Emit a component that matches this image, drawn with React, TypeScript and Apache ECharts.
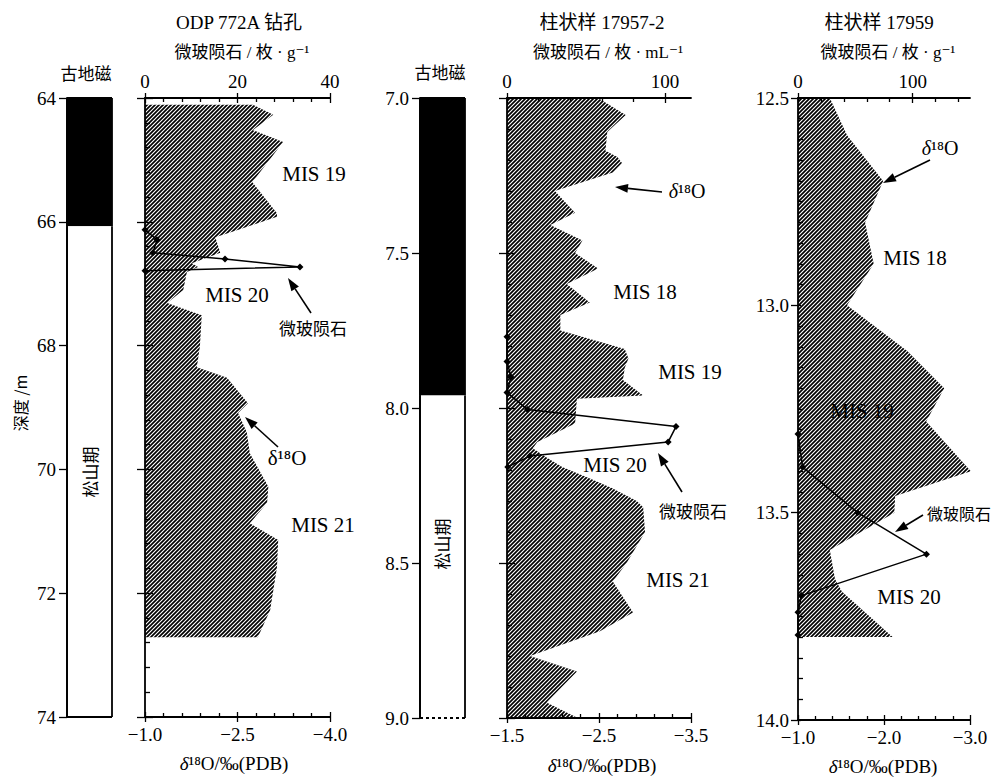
import React, { useEffect, useRef } from 'react';
import * as echarts from 'echarts';

// ---------------- DATA ----------------
// Panel 1: ODP 772A
const odpDepthTicks = [64, 66, 68, 70, 72, 74];
const odpCountTicks = [0, 20, 40];
const odpD18OTicks = [-1.0, -2.5, -4.0];
// [top depth, bottom depth, normal(1)/reversed(0)]
const odpPolarity = [
  [64, 66.07, 1],
  [66.07, 74, 0],
];
const odpProfileDepth = [64.11, 64.27, 64.52, 64.71, 65.36, 65.86, 65.92, 66.12, 66.25, 66.5, 66.67, 66.73, 66.81, 67.1, 67.31, 67.51, 68.02, 68.35, 68.52, 68.93, 69.09, 69.4, 69.74, 70.28, 70.54, 70.87, 71.14, 71.58, 72.27, 72.71];
const odpProfileD18O = [-2.75, -3.08, -2.75, -3.24, -2.74, -3.14, -3.14, -2.54, -2.14, -2.22, -1.76, -1.86, -1.68, -1.62, -1.36, -1.92, -1.89, -1.84, -2.33, -2.67, -2.51, -2.65, -2.7, -3.0, -2.98, -2.7, -3.16, -3.14, -3.03, -2.83];
const odpMicroDepth = [66.13, 66.29, 66.5, 66.6, 66.73, 66.79];
const odpMicroCount = [0, 2.6, 1.7, 17.3, 33.5, 0];

// Panel 2: core 17957-2
const c2DepthTicks = [7.0, 7.5, 8.0, 8.5, 9.0];
const c2CountTicks = [0, 100];
const c2D18OTicks = [-1.5, -2.5, -3.5];
const c2Polarity = [
  [7.0, 7.96, 1],
  [7.96, 9.0, 0],
];
const c2ProfileDepth = [7.0, 7.055, 7.11, 7.17, 7.19, 7.21, 7.24, 7.3, 7.37, 7.41, 7.46, 7.5, 7.55, 7.6, 7.66, 7.7, 7.75, 7.81, 7.84, 7.87, 7.91, 7.96, 7.97, 8.05, 8.11, 8.13, 8.16, 8.19, 8.23, 8.26, 8.3, 8.32, 8.4, 8.5, 8.56, 8.66, 8.72, 8.8, 8.85, 8.95, 9.0];
const c2ProfileD18O = [-2.49, -2.79, -2.59, -2.57, -2.7, -2.75, -2.65, -2.02, -2.24, -1.97, -2.32, -2.24, -2.49, -2.15, -2.4, -2.08, -2.08, -2.78, -2.82, -2.78, -2.76, -2.98, -2.26, -2.24, -1.83, -1.78, -1.93, -2.1, -2.42, -2.65, -2.91, -2.98, -3.0, -2.8, -2.65, -2.87, -2.51, -1.75, -2.26, -1.93, -2.27];
const c2MicroDepth = [7.77, 7.85, 7.9, 7.95, 8.005, 8.06, 8.11, 8.155, 8.19];
const c2MicroCount = [0, 0, 2.5, 0, 13, 107, 102, 14.5, 0.5];

// Panel 3: core 17959
const c3DepthTicks = [12.5, 13.0, 13.5, 14.0];
const c3CountTicks = [0, 100];
const c3D18OTicks = [-1.0, -2.0, -3.0];
const c3ProfileDepth = [12.5, 12.59, 12.7, 12.8, 12.9, 13.0, 13.11, 13.2, 13.28, 13.4, 13.46, 13.5, 13.59, 13.66, 13.69, 13.8];
const c3ProfileD18O = [-1.37, -1.57, -1.99, -1.78, -1.88, -1.57, -2.27, -2.7, -2.49, -3.01, -2.13, -2.12, -1.37, -1.43, -1.51, -2.1];
const c3MicroDepth = [13.31, 13.39, 13.5, 13.6, 13.7, 13.74, 13.795];
const c3MicroCount = [0, 4, 52, 112, 3, 0, 0];

// ---------------- STYLE HELPERS ----------------
const SERIF = 'Liberation Serif, DejaVu Serif, Noto Sans CJK SC, serif';
const SERIF1 = 'Liberation Serif';
const CJK = 'Noto Sans CJK SC, Liberation Serif, sans-serif';

function steps(min: number, max: number, step: number): number[] {
  const out: number[] = [];
  const lo = Math.min(min, max), hi = Math.max(min, max);
  for (let i = 0; lo + i * step <= hi + 1e-9; i++) out.push(+(lo + i * step).toFixed(5));
  return out;
}

type AxisCfg = {
  min: number; max: number; inverse?: boolean;
  majors: number[]; minorStep?: number;
  labels: boolean; fmt?: (v: number) => string; margin?: number;
  outLen: number; inLen: number; minorLen: number;
};

function addAxisSet(list: any[], gridIndex: number, position: string, c: AxisCfg): number {
  const base = {
    gridIndex, type: 'value', min: c.min, max: c.max, inverse: !!c.inverse, position,
    splitLine: { show: false }, axisPointer: { show: false }, z: 10,
  };
  const tickStyle = { color: '#000', width: 1.3 };
  list.push({
    ...base,
    axisLine: { show: true, onZero: false, lineStyle: { color: '#000', width: 1.8 } },
    axisTick: { show: c.outLen > 0, inside: false, length: c.outLen, customValues: c.majors, lineStyle: tickStyle },
    axisLabel: {
      show: c.labels, customValues: c.majors, formatter: c.fmt, margin: c.margin ?? 8,
      color: '#000', fontFamily: SERIF1, fontSize: 19,
    },
  });
  const idx = list.length - 1;
  if (c.inLen > 0) {
    list.push({
      ...base,
      axisLine: { show: false, onZero: false },
      axisTick: { show: true, inside: true, length: c.inLen, customValues: c.majors, lineStyle: tickStyle },
      axisLabel: { show: false },
    });
  }
  if (c.minorStep) {
    const minors = steps(c.min, c.max, c.minorStep).filter((v) => !c.majors.some((m) => Math.abs(m - v) < 1e-6));
    list.push({
      ...base,
      axisLine: { show: false, onZero: false },
      axisTick: { show: true, inside: true, length: c.minorLen, customValues: minors, lineStyle: tickStyle },
      axisLabel: { show: false },
    });
  }
  return idx;
}

function makeHatch(): string {
  const c = document.createElement('canvas');
  c.width = 4; c.height = 4;
  const ctx = c.getContext('2d')!;
  ctx.strokeStyle = '#000';
  ctx.lineWidth = 1.7;
  ctx.beginPath();
  ctx.moveTo(-1, 5); ctx.lineTo(5, -1);
  ctx.moveTo(-3, 3); ctx.lineTo(3, -3);
  ctx.moveTo(1, 7); ctx.lineTo(7, 1);
  ctx.stroke();
  return c.toDataURL();
}

function arrow(x1: number, y1: number, x2: number, y2: number) {
  const a = Math.atan2(y2 - y1, x2 - x1);
  const L = 13, W = 4.5;
  const bx = x2 - L * Math.cos(a), by = y2 - L * Math.sin(a);
  return [
    { type: 'line', silent: true, z: 100, shape: { x1, y1, x2: bx, y2: by }, style: { stroke: '#000', lineWidth: 1.6 } },
    {
      type: 'polygon', silent: true, z: 100,
      shape: { points: [[x2, y2], [bx + W * Math.sin(a), by - W * Math.cos(a)], [bx - W * Math.sin(a), by + W * Math.cos(a)]] },
      style: { fill: '#000' },
    },
  ];
}

function txt(text: string, x: number, y: number, size: number, family: string, opts: any = {}) {
  return {
    type: 'text', silent: true, z: 100, x, y, rotation: opts.rotation || 0,
    style: {
      text, x: 0, y: 0, fill: '#000',
      font: `${opts.italic ? 'italic ' : ''}${size}px ${family}`,
      textAlign: opts.align || 'center', textVerticalAlign: 'middle', verticalAlign: 'middle',
    },
  };
}

function d18oLabel(x: number, y: number, size: number, italicDelta: boolean, tail: string) {
  return {
    type: 'text', silent: true, z: 100, x, y,
    style: {
      text: `{d|δ}{n|¹⁸O${tail}}`, x: 0, y: 0, fill: '#000',
      textAlign: 'center', textVerticalAlign: 'middle', verticalAlign: 'middle',
      rich: {
        d: { fontFamily: SERIF1, fontSize: size, fontStyle: italicDelta ? 'italic' : 'normal', fill: '#000' },
        n: { fontFamily: SERIF1, fontSize: size, fill: '#000' },
      },
    },
  };
}

// ---------------- COMPONENT ----------------
export default function App() {
  const ref = useRef<HTMLDivElement>(null);

  useEffect(() => {
    document.body.style.margin = '0';
    if (!ref.current) return;
    const chart = echarts.init(ref.current, undefined, { renderer: 'svg' });
    const hatch = { image: makeHatch(), repeat: 'repeat', imageWidth: 4, imageHeight: 4 };

    const grids: any[] = [];
    const xAxes: any[] = [];
    const yAxes: any[] = [];
    const series: any[] = [];

    const addColumn = (p: any) => {
      const gi = grids.length;
      grids.push({ left: p.left, top: p.top, width: p.width, height: p.height, containLabel: false, outerBoundsMode: 'none' });
      xAxes.push({ gridIndex: gi, type: 'value', min: 0, max: 1, show: false });
      const xi = xAxes.length - 1;
      const yi = addAxisSet(yAxes, gi, 'left', {
        min: p.dMin, max: p.dMax, inverse: true, majors: p.ticks, labels: true, fmt: p.fmt,
        margin: 11, outLen: 8, inLen: 0, minorLen: 0,
      });
      const n = p.polarity.length;
      series.push({
        type: 'custom', xAxisIndex: xi, yAxisIndex: yi, silent: true, z: 3,
        data: p.polarity.map((r: number[]) => [r[0], r[1], r[2]]),
        encode: { x: 2, y: [0, 1] },
        renderItem: (params: any, api: any) => {
          const top = api.value(0), bot = api.value(1), normal = api.value(2);
          const a = api.coord([0, top]);
          const b = api.coord([1, bot]);
          const ls = { stroke: '#000', lineWidth: 1.8 };
          const children: any[] = [
            { type: 'rect', shape: { x: a[0], y: a[1], width: b[0] - a[0], height: b[1] - a[1] }, style: { fill: normal ? '#000' : '#fff' } },
            { type: 'line', shape: { x1: a[0], y1: a[1], x2: a[0], y2: b[1] }, style: ls },
            { type: 'line', shape: { x1: b[0], y1: a[1], x2: b[0], y2: b[1] }, style: ls },
          ];
          if (params.dataIndex === 0) children.push({ type: 'line', shape: { x1: a[0], y1: a[1], x2: b[0], y2: a[1] }, style: ls });
          if (params.dataIndex === n - 1)
            children.push({ type: 'line', shape: { x1: a[0], y1: b[1], x2: b[0], y2: b[1] }, style: { ...ls, lineDash: p.dashedBottom ? [3, 3] : null } });
          return { type: 'group', children };
        },
      });
    };

    const addPlot = (p: any) => {
      const gi = grids.length;
      grids.push({ left: p.left, top: p.top, width: p.width, height: p.height, containLabel: false, outerBoundsMode: 'none' });
      const topIdx = addAxisSet(xAxes, gi, 'top', {
        min: 0, max: p.countMax, majors: p.countTicks, minorStep: p.countMinor, labels: true,
        fmt: (v: number) => String(v), margin: 7, outLen: 5, inLen: 5, minorLen: 4,
      });
      const botIdx = addAxisSet(xAxes, gi, 'bottom', {
        min: p.oMin, max: p.oMax, inverse: true, majors: p.oTicks, minorStep: p.oMinor, labels: true,
        fmt: (v: number) => '−' + Math.abs(v).toFixed(1), margin: 8, outLen: 5, inLen: 5, minorLen: 4,
      });
      const yIdx = addAxisSet(yAxes, gi, 'left', {
        min: p.dMin, max: p.dMax, inverse: true, majors: p.depthTicks, minorStep: p.depthMinor,
        labels: !!p.depthLabels, fmt: p.depthFmt, margin: 9, outLen: p.depthLabels ? 7 : 8, inLen: p.depthLabels ? 3 : 8, minorLen: 5,
      });
      const depth: number[] = p.profDepth;
      const vals: number[] = p.profVal;
      const baseVal = p.oMax;
      series.push({
        type: 'custom', xAxisIndex: botIdx, yAxisIndex: yIdx, silent: true, z: 2,
        data: vals.map((v, i) => [v, depth[i]]),
        encode: { x: 0, y: 1 },
        renderItem: (params: any, api: any) => {
          if (params.dataIndex !== 0) return null;
          const pts: number[][] = [api.coord([baseVal, depth[0]])];
          for (let i = 0; i < depth.length; i++) pts.push(api.coord([vals[i], depth[i]]));
          pts.push(api.coord([baseVal, depth[depth.length - 1]]));
          return { type: 'polygon', shape: { points: pts }, style: { fill: hatch, stroke: null } };
        },
      });
      const md: number[] = p.microDepth;
      const mc: number[] = p.microCount;
      series.push({
        type: 'line', xAxisIndex: topIdx, yAxisIndex: yIdx, silent: true, z: 6, clip: false,
        data: mc.map((c, i) => [c, md[i]]),
        symbol: 'diamond', symbolSize: 7, showSymbol: true,
        lineStyle: { color: '#000', width: 1.5 }, itemStyle: { color: '#000' },
        emphasis: { disabled: true },
      });
    };

    // Panel 1
    addColumn({ left: 67, top: 98, width: 45, height: 619, dMin: 64, dMax: 74, ticks: odpDepthTicks, fmt: (v: number) => String(v), polarity: odpPolarity });
    addPlot({
      left: 145, top: 98, width: 185, height: 619,
      countMax: 40, countTicks: odpCountTicks, countMinor: 4,
      oMin: -4.0, oMax: -1.0, oTicks: odpD18OTicks, oMinor: 0.3,
      dMin: 64, dMax: 74, depthTicks: odpDepthTicks, depthMinor: 0.4,
      profDepth: odpProfileDepth, profVal: odpProfileD18O,
      microDepth: odpMicroDepth, microCount: odpMicroCount,
    });
    // Panel 2
    addColumn({ left: 420, top: 98, width: 45, height: 620, dMin: 7, dMax: 9, ticks: c2DepthTicks, fmt: (v: number) => v.toFixed(1), polarity: c2Polarity, dashedBottom: true });
    addPlot({
      left: 507, top: 98, width: 184, height: 620,
      countMax: 116.5, countTicks: c2CountTicks, countMinor: 20,
      oMin: -3.5, oMax: -1.5, oTicks: c2D18OTicks, oMinor: 0.2,
      dMin: 7, dMax: 9, depthTicks: c2DepthTicks, depthMinor: 0.1,
      profDepth: c2ProfileDepth, profVal: c2ProfileD18O,
      microDepth: c2MicroDepth, microCount: c2MicroCount,
    });
    // Panel 3
    addPlot({
      left: 798, top: 98, width: 172, height: 622,
      countMax: 150, countTicks: c3CountTicks, countMinor: 20,
      oMin: -3.0, oMax: -1.0, oTicks: c3D18OTicks, oMinor: 0.2,
      dMin: 12.5, dMax: 14.0, depthTicks: c3DepthTicks, depthMinor: 0.05,
      depthLabels: true, depthFmt: (v: number) => v.toFixed(1),
      profDepth: c3ProfileDepth, profVal: c3ProfileD18O,
      microDepth: c3MicroDepth, microCount: c3MicroCount,
    });

    const elements: any[] = [
      // Panel 1 texts
      txt('ODP 772A 钻孔', 239, 22, 19, SERIF),
      txt('微玻陨石 / 枚 · g⁻¹', 242, 52, 17, SERIF),
      txt('古地磁', 86, 72, 17, CJK),
      txt('深度 /m', 20, 403, 16, CJK, { rotation: Math.PI / 2 }),
      txt('松山期', 89, 472, 17, CJK, { rotation: Math.PI / 2 }),
      txt('MIS 19', 314, 174, 21, SERIF),
      txt('MIS 20', 237, 295, 21, SERIF),
      txt('微玻陨石', 313, 327, 17, CJK),
      ...arrow(311, 313, 288, 278),
      d18oLabel(287, 458, 21, false, ''),
      ...arrow(278, 447, 245, 417),
      txt('MIS 21', 323, 525, 21, SERIF),
      d18oLabel(234, 763, 19, true, '/‰(PDB)'),
      // Panel 2 texts
      txt('柱状样 17957-2', 602, 22, 19, SERIF),
      txt('微玻陨石 / 枚 · mL⁻¹', 608, 52, 17, SERIF),
      txt('古地磁', 440, 71, 17, CJK),
      txt('松山期', 441, 544, 17, CJK, { rotation: Math.PI / 2 }),
      d18oLabel(687, 191, 20, true, ''),
      ...arrow(662, 192, 615, 187),
      txt('MIS 18', 645, 292, 21, SERIF),
      txt('MIS 19', 690, 372, 21, SERIF),
      txt('MIS 20', 615, 465, 21, SERIF),
      txt('微玻陨石', 693, 510, 17, CJK),
      ...arrow(682, 492, 658, 453),
      txt('MIS 21', 678, 580, 21, SERIF),
      d18oLabel(602, 765, 19, true, '/‰(PDB)'),
      // Panel 3 texts
      txt('柱状样 17959', 879, 22, 19, SERIF),
      txt('微玻陨石 / 枚 · g⁻¹', 888, 52, 17, SERIF),
      d18oLabel(940, 148, 20, true, ''),
      ...arrow(930, 160, 883, 183),
      txt('MIS 18', 915, 258, 21, SERIF),
      txt('MIS 19', 862, 411, 21, SERIF),
      txt('微玻陨石', 927, 513, 16, CJK, { align: 'left' }),
      ...arrow(923, 515, 895, 532),
      txt('MIS 20', 909, 597, 21, SERIF),
      d18oLabel(883, 766, 19, true, '/‰(PDB)'),
    ];

    chart.setOption({
      animation: false,
      backgroundColor: '#fff',
      textStyle: { fontFamily: SERIF1, color: '#000' },
      tooltip: { show: false },
      grid: grids,
      xAxis: xAxes,
      yAxis: yAxes,
      series,
      graphic: { elements },
    });
    return () => chart.dispose();
  }, []);

  return <div ref={ref} style={{ position: 'relative', width: 993, height: 777, background: '#fff' }} />;
}
